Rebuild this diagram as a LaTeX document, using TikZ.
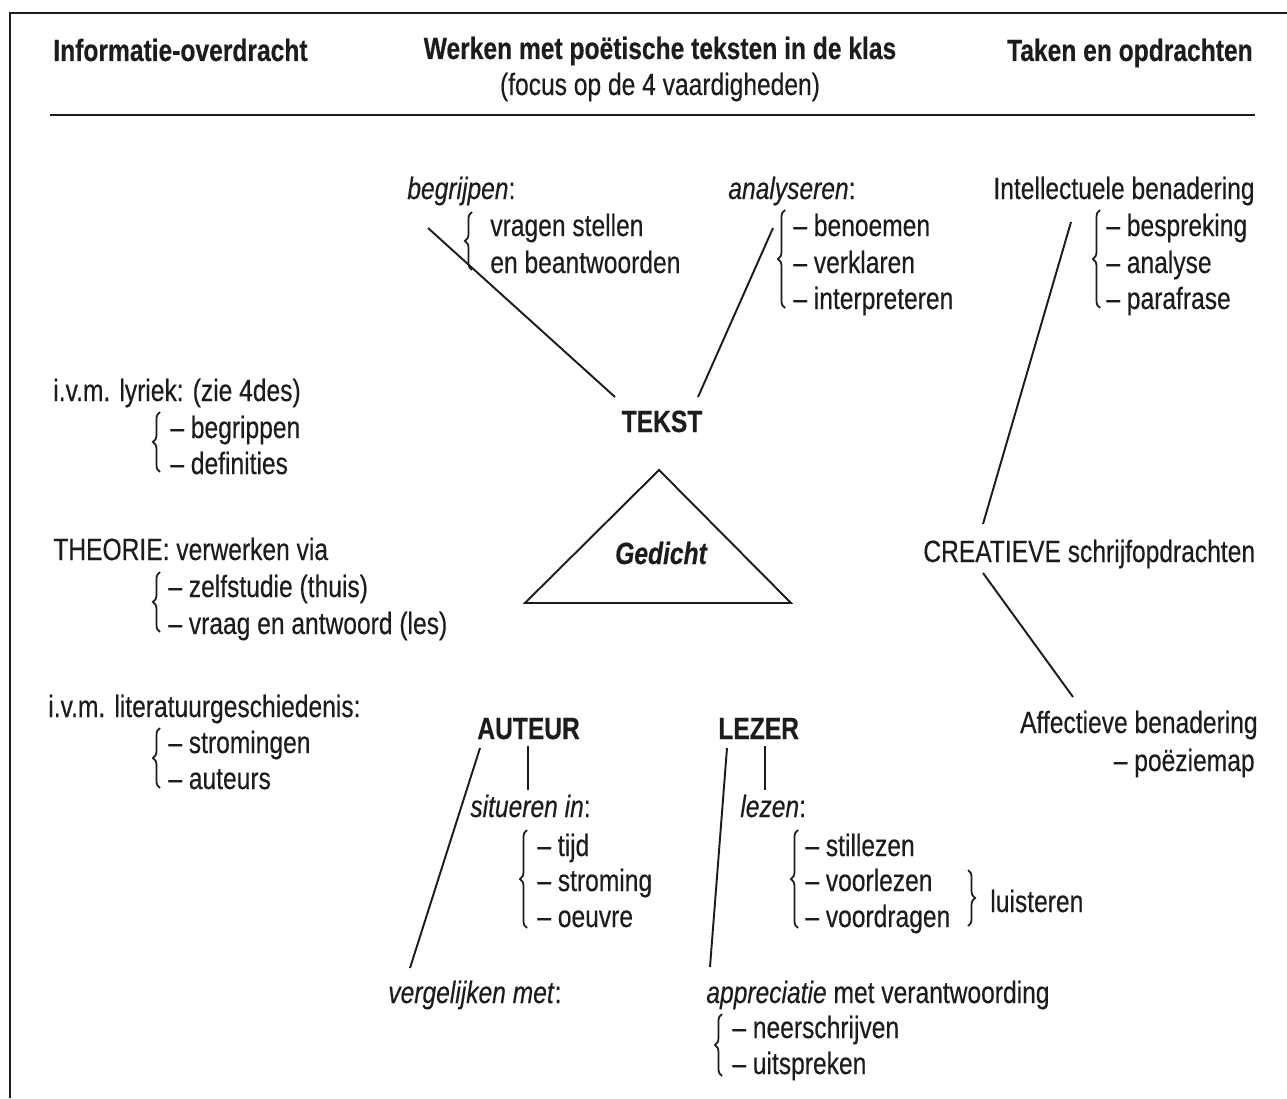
\documentclass[tikz,border=0pt]{standalone}
\usepackage{fontspec}
\setmainfont{Liberation Sans}[FakeStretch=0.80, FakeBold=0.3]
\usetikzlibrary{decorations.pathreplacing}
\definecolor{ink}{RGB}{28,28,28}
\begin{document}
\begin{tikzpicture}[x=0.02cm,y=-0.02cm,
  txt/.style={anchor=base west, inner sep=0pt, font=\fontsize{17.5}{21}\selectfont, text=ink},
  hdr/.style={txt, font=\fontsize{17.5}{21}\selectfont\bfseries},
  ln/.style={draw=ink, line width=1.1pt},
  frame/.style={draw=ink, line width=1.5pt},
  brc/.style={draw=ink, line width=1pt, decorate, decoration={brace, amplitude=4pt}},
]
\useasboundingbox (0,0) rectangle (1287,1098);
\fill[white] (0,0) rectangle (1287,1098);

% frame and rule
\draw[frame] (10,1098) -- (10,13) -- (1287,13);
\coordinate (r1) at (50,115);
\coordinate (r2) at (1255,115);
\draw[frame] (r1) -- (r2);

% header
\node[hdr] (h1) at (53,61) {Informatie-overdracht};
\node[hdr, anchor=base] (h2) at (660,59) {Werken met poëtische teksten in de klas};
\node[txt, anchor=base] (h3) at (660,95) {(focus op de 4 vaardigheden)};
\node[hdr, anchor=base east] (h4) at (1253,61) {Taken en opdrachten};

% top middle: begrijpen
\node[txt] (begr) at (407,199) {\textit{begrijpen}:};
\draw[brc] (472,270) -- (472,212);
\node[txt] (vr1) at (490,236) {vragen stellen};
\node[txt] (vr2) at (490,273) {en beantwoorden};
\coordinate (bl1) at (428,228);
\coordinate (bl2) at (615,397);
\draw[ln] (bl1) -- (bl2);

% analyseren
\node[txt] (anal) at (728,199) {\textit{analyseren}:};
\draw[brc] (785,308) -- (785,210);
\node[txt] (an1) at (793,236) {– benoemen};
\node[txt] (an2) at (793,273) {– verklaren};
\node[txt] (an3) at (793,309) {– interpreteren};
\coordinate (al1) at (773,228);
\coordinate (al2) at (698,397);
\draw[ln] (al1) -- (al2);

% TEKST and triangle
\node[hdr, anchor=base] (tekst) at (662,432) {TEKST};
\coordinate (ta) at (659,470);
\coordinate (tl) at (525,603);
\coordinate (tr) at (791,603);
\draw[ln, line join=miter] (ta) -- (tl) -- (tr) -- cycle;
\node[txt, anchor=base, font=\fontsize{17.5}{21}\selectfont\bfseries\itshape] (ged) at (661,564) {Gedicht};

% left column
\node[txt] (l1) at (53,401) {i.v.m. lyriek: (zie 4des)};
\draw[brc] (160,472) -- (160,412);
\node[txt] (l1a) at (170,438) {– begrippen};
\node[txt] (l1b) at (170,474) {– definities};

\node[txt] (l2) at (53,560) {THEORIE: verwerken via};
\draw[brc] (160,632) -- (160,572);
\node[txt] (l2a) at (168,597) {– zelfstudie (thuis)};
\node[txt] (l2b) at (168,634) {– vraag en antwoord (les)};

\node[txt] (l3) at (48,717) {i.v.m. literatuurgeschiedenis:};
\draw[brc] (160,788) -- (160,728);
\node[txt] (l3a) at (168,753) {– stromingen};
\node[txt] (l3b) at (168,789) {– auteurs};

% right column
\node[txt, anchor=base east] (intel) at (1255,199) {Intellectuele benadering};
\draw[brc] (1100,308) -- (1100,210);
\node[txt] (in1) at (1106,236) {– bespreking};
\node[txt] (in2) at (1106,273) {– analyse};
\node[txt] (in3) at (1106,309) {– parafrase};
\coordinate (il1) at (1071,222);
\coordinate (il2) at (983,524);
\draw[ln] (il1) -- (il2);

\node[txt] (crea) at (923,562) {CREATIEVE schrijfopdrachten};
\coordinate (cl1) at (983,573);
\coordinate (cl2) at (1073,697);
\draw[ln] (cl1) -- (cl2);

\node[txt, anchor=base east] (affe) at (1258,733) {Affectieve benadering};
\node[txt, anchor=base east] (poez) at (1255,771) {– poëziemap};

% AUTEUR
\node[hdr] (aut) at (477,739) {AUTEUR};
\coordinate (av1) at (528,746);
\coordinate (av2) at (528,790);
\draw[ln] (av1) -- (av2);
\coordinate (as1) at (480,748);
\coordinate (as2) at (410,968);
\draw[ln] (as1) -- (as2);
\node[txt] (sit) at (470,817) {\textit{situeren in}:};
\draw[brc] (527,928) -- (527,830);
\node[txt] (s1) at (537,856) {– tijd};
\node[txt] (s2) at (537,891) {– stroming};
\node[txt] (s3) at (537,927) {– oeuvre};
\node[txt] (verg) at (388,1003) {\textit{vergelijken met}:};

% LEZER
\node[hdr] (lez) at (718,739) {LEZER};
\coordinate (lv1) at (765,746);
\coordinate (lv2) at (765,790);
\draw[ln] (lv1) -- (lv2);
\coordinate (ls1) at (727,748);
\coordinate (ls2) at (710,967);
\draw[ln] (ls1) -- (ls2);
\node[txt] (lzn) at (740,817) {\textit{lezen}:};
\draw[brc] (798,928) -- (798,830);
\node[txt] (z1) at (805,856) {– stillezen};
\node[txt] (z2) at (805,891) {– voorlezen};
\node[txt] (z3) at (805,927) {– voordragen};
\draw[brc] (968,870) -- (968,926);
\node[txt] (luis) at (990,912) {luisteren};

\node[txt] (appr) at (706,1003) {\textit{appreciatie} met verantwoording};
\draw[brc] (722,1076) -- (722,1014);
\node[txt] (p1) at (732,1038) {– neerschrijven};
\node[txt] (p2) at (732,1074) {– uitspreken};
\end{tikzpicture}
\end{document}
